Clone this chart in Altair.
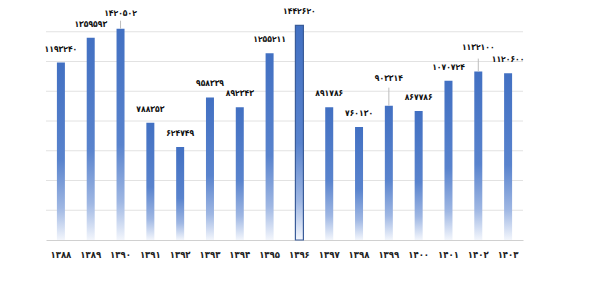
import altair as alt
import pandas as pd

# ---- data ----
years = ["۱۳۸۸", "۱۳۸۹", "۱۳۹۰", "۱۳۹۱", "۱۳۹۲", "۱۳۹۳", "۱۳۹۴", "۱۳۹۵",
         "۱۳۹۶", "۱۳۹۷", "۱۳۹۸", "۱۳۹۹", "۱۴۰۰", "۱۴۰۱", "۱۴۰۲", "۱۴۰۳"]
values = [1193240, 1359593, 1420502, 788353, 624749, 958339, 892343, 1255211,
          1442620, 891786, 760130, 903314, 867786, 1070724, 1132100, 1120600]
grid_values = [0, 200000, 400000, 600000, 800000, 1000000, 1200000, 1400000]
highlight_year = "۱۳۹۶"

# labels that were moved up and carry a leader line: (year, label lift px, line px)
leader_labels = [("۱۳۹۰", 16, 8), ("۱۳۹۹", 28, 18), ("۱۴۰۲", 25, 13)]

FA = str.maketrans("0123456789", "۰۱۲۳۴۵۶۷۸۹")

def fa(n):
    return str(n).translate(FA)

df = pd.DataFrame({
    "year": years,
    "value": values,
    "label": [fa(v) for v in values],
    "hl": [y == highlight_year for y in years],
})

FONT = "DejaVu Sans Condensed"
Y_MAX = 1600000

x_enc = alt.X("year:N", sort=None, axis=alt.Axis(
    title=None, labelAngle=0, ticks=False, domain=True, domainColor="#d0d0d0",
    labelFont=FONT, labelFontSize=9.5, labelFontWeight="bold", labelColor="#222",
    labelPadding=9, grid=False),
    scale=alt.Scale(paddingInner=0.73, paddingOuter=0.365))
y_scale = alt.Scale(domain=[0, Y_MAX], nice=False)
y_enc = alt.Y("value:Q", scale=y_scale, axis=None)

base = alt.Chart(df)

grid = alt.Chart(pd.DataFrame({"g": grid_values[1:]})).mark_rule(
    color="#e2e2e2", strokeWidth=1
).encode(y=alt.Y("g:Q", scale=y_scale, axis=None))

gradient = alt.Gradient(
    gradient="linear",
    stops=[
        alt.GradientStop(color="#4270C2", offset=0),
        alt.GradientStop(color="#5983CD", offset=0.55),
        alt.GradientStop(color="#9FB7E3", offset=0.82),
        alt.GradientStop(color="#F3F6FC", offset=1),
    ],
    x1=0, x2=0, y1=0, y2=1,
)

bars = base.mark_bar(size=8, color=gradient, stroke="#3A5C99").encode(
    x=x_enc, y=y_enc,
    strokeWidth=alt.condition("datum.hl", alt.value(1.2), alt.value(0)),
)

leader_years = [l[0] for l in leader_labels]

normal_labels = base.transform_filter(
    alt.FieldOneOfPredicate(field="year", oneOf=[y for y in years if y not in leader_years])
).mark_text(font=FONT, fontSize=8.5, fontWeight="bold", color="#111",
            baseline="middle", dy=-14).encode(x=x_enc, y=y_enc, text="label:N")

layers = [grid, bars, normal_labels]
for yr, lift, line in leader_labels:
    sub = base.transform_filter(alt.datum.year == yr)
    layers.append(sub.mark_rule(color="#bdbdbd", strokeWidth=1, y2Offset=-line).encode(
        x=x_enc, y=y_enc, y2="value:Q"))
    layers.append(sub.mark_text(font=FONT, fontSize=8.5, fontWeight="bold", color="#111",
                                baseline="middle", dy=-lift).encode(
        x=x_enc, y=y_enc, text="label:N"))

chart = alt.layer(*layers).properties(
    width=477, height=238,
    padding={"left": 46, "top": 2, "right": 77, "bottom": 46},
    autosize=alt.AutoSizeParams(type="none"),
    background="white",
).configure_view(stroke=None)

chart.save("out.html", embed_options={"renderer": "svg", "actions": False})
